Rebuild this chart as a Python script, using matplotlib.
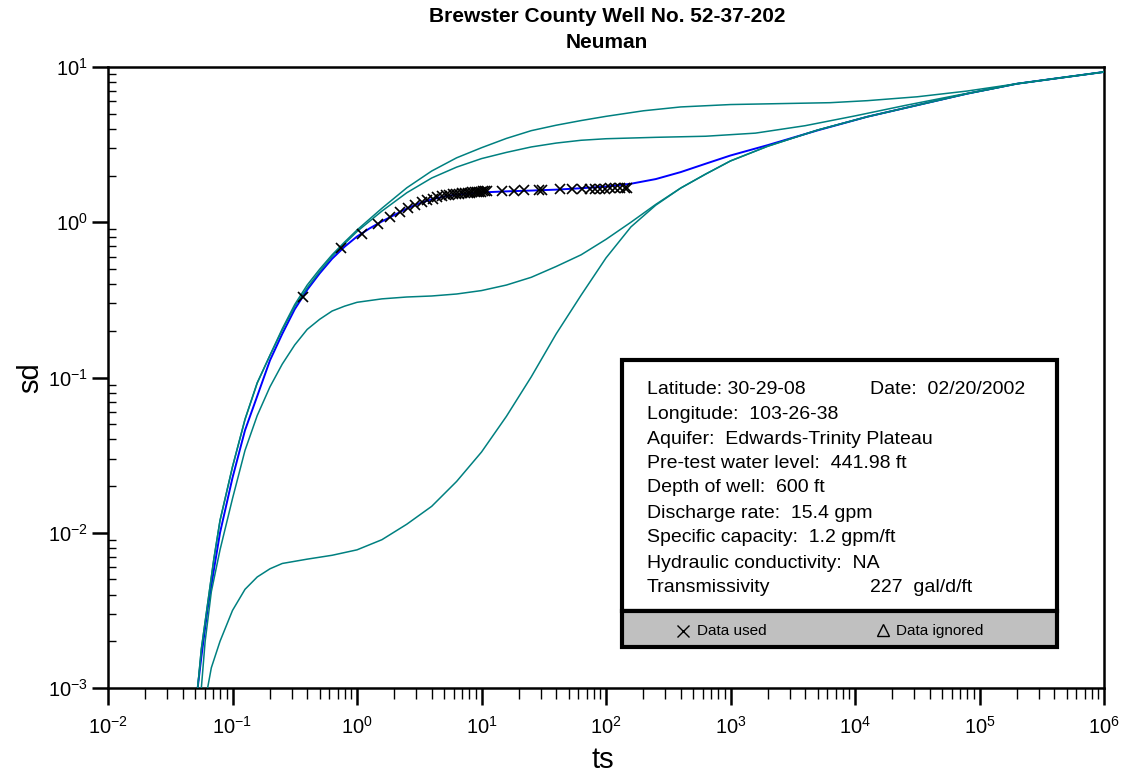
import numpy as np
import matplotlib
matplotlib.use("Agg")
import matplotlib.pyplot as plt
from matplotlib.ticker import LogLocator, FixedLocator, LogFormatterSciNotation
from matplotlib.patches import Rectangle
from matplotlib.lines import Line2D

plt.rcParams['font.family'] = ['Liberation Sans', 'DejaVu Sans']
plt.rcParams['mathtext.default'] = 'regular'

# --- Neuman type curves ---
t1_x = [0.0525, 0.0562, 0.0631, 0.0708, 0.0794, 0.1, 0.126, 0.158, 0.2, 0.251, 0.316, 0.398, 0.501,
        0.631, 0.794, 1, 1.585, 2.512, 3.981, 6.31, 10, 15.85, 25.1, 39.8, 63.1, 100, 200, 398, 1000,
        2512, 6310, 12590, 31620, 79430, 199500, 398100, 1e6]
t1_y = [0.001, 0.00178, 0.00347, 0.00676, 0.012, 0.0266, 0.0537, 0.0923, 0.139, 0.206, 0.295, 0.394,
        0.498, 0.617, 0.745, 0.891, 1.23, 1.667, 2.138, 2.60, 3.02, 3.467, 3.89, 4.217, 4.519, 4.81,
        5.224, 5.53, 5.73, 5.81, 5.89, 6.07, 6.43, 7.0, 7.8, 8.41, 9.29]

t2_x = [0.0525, 0.0562, 0.0631, 0.0708, 0.0794, 0.1, 0.126, 0.158, 0.2, 0.251, 0.316, 0.398, 0.501,
        0.631, 0.794, 1, 1.585, 2.512, 3.981, 6.31, 10, 15.85, 25.1, 39.8, 63.1, 100, 251, 631, 1585,
        3981, 10000, 25120, 63100, 125900, 199500, 398100, 1e6]
t2_y = [0.001, 0.00178, 0.00347, 0.00676, 0.012, 0.0266, 0.0537, 0.0923, 0.139, 0.202, 0.287, 0.378,
        0.482, 0.603, 0.726, 0.871, 1.18, 1.549, 1.928, 2.265, 2.57, 2.818, 3.055, 3.236, 3.373, 3.451,
        3.524, 3.581, 3.75, 4.188, 4.842, 5.649, 6.531, 7.228, 7.8, 8.41, 9.29]

t3_x = [0.0562, 0.0603, 0.0676, 0.0794, 0.1, 0.126, 0.158, 0.2, 0.251, 0.316, 0.398, 0.501, 0.631,
        0.794, 1, 1.585, 2.512, 3.981, 6.31, 10, 15.85, 25.1, 39.8, 63.1, 100, 158.5, 251, 398, 631,
        1000, 1995, 5012, 12590, 31620, 79430, 199500, 398100, 1e6]
t3_y = [0.001, 0.002, 0.00417, 0.00776, 0.0166, 0.0339, 0.0569, 0.0871, 0.122, 0.162, 0.204, 0.237,
        0.268, 0.288, 0.305, 0.321, 0.33, 0.335, 0.345, 0.363, 0.394, 0.442, 0.519, 0.617, 0.776, 1.0,
        1.303, 1.66, 2.042, 2.483, 3.09, 3.926, 4.786, 5.675, 6.73, 7.8, 8.41, 9.29]

t4_x = [0.0631, 0.0676, 0.0794, 0.1, 0.126, 0.158, 0.2, 0.251, 0.398, 0.631, 1, 1.585, 2.512, 3.981,
        6.31, 10, 15.85, 25.1, 39.8, 63.1, 100, 158.5, 251, 398, 631, 1000, 1995, 5012, 12590, 31620,
        79430, 199500, 398100, 1e6]
t4_y = [0.001, 0.00135, 0.002, 0.00316, 0.00432, 0.00519, 0.00586, 0.00634, 0.00676, 0.00716, 0.00776,
        0.00902, 0.01135, 0.0148, 0.0214, 0.0331, 0.0562, 0.101, 0.191, 0.339, 0.589, 0.933, 1.288,
        1.66, 2.042, 2.483, 3.09, 3.926, 4.786, 5.675, 6.73, 7.8, 8.41, 9.29]

# fitted curve (blue)
fit_x = [0.0525, 0.0562, 0.0631, 0.0708, 0.0794, 0.1, 0.126, 0.158, 0.2, 0.251, 0.316, 0.398, 0.501,
         0.631, 0.794, 1, 1.259, 1.585, 1.995, 2.512, 3.162, 3.981, 5.012, 6.31, 10, 15.85, 25.1, 39.8,
         63.1, 100, 158.5, 251, 398, 631, 1000, 1995, 5012, 12590, 31620, 79430, 199500, 398100, 1e6]
fit_y = [0.001, 0.00158, 0.00324, 0.00575, 0.01, 0.0226, 0.0457, 0.0759, 0.129, 0.191, 0.275, 0.367,
         0.468, 0.582, 0.695, 0.809, 0.912, 1.012, 1.114, 1.225, 1.324, 1.406, 1.466, 1.507, 1.556,
         1.581, 1.6, 1.622, 1.656, 1.698, 1.77, 1.897, 2.104, 2.382, 2.692, 3.14, 3.908, 4.786, 5.675,
         6.73, 7.8, 8.41, 9.29]

# observed data (used)
ts_obs = [0.37, 0.74, 1.10, 1.47, 1.84, 2.21, 2.58, 2.94, 3.31, 3.68, 4.05, 4.42, 4.78, 5.15, 5.52,
          5.89, 6.26, 6.62, 6.99, 7.36, 7.73, 8.10, 8.46, 8.83, 9.20, 9.57, 9.94, 10.3, 10.7, 11.0,
          14.7, 18.4, 22.1, 29.0, 30.5, 42.8, 53.3, 64.1, 74.3, 82.1, 89.0, 98.0, 108, 118, 129,
          142, 148]
sd_obs = [0.33, 0.68, 0.84, 0.98, 1.08, 1.16, 1.24, 1.30, 1.35, 1.39, 1.42, 1.45, 1.47, 1.49, 1.50,
          1.51, 1.52, 1.53, 1.54, 1.54, 1.55, 1.55, 1.56, 1.56, 1.57, 1.57, 1.57, 1.58, 1.58, 1.58,
          1.60, 1.60, 1.61, 1.62, 1.62, 1.63, 1.63, 1.63, 1.64, 1.64, 1.64, 1.64, 1.65, 1.65, 1.65,
          1.65, 1.65]

x_major = [1e-2, 1e-1, 1e0, 1e1, 1e2, 1e3, 1e4, 1e5, 1e6]
y_major = [1e-3, 1e-2, 1e-1, 1e0, 1e1]

info_left = ["Latitude: 30-29-08", "Longitude:  103-26-38", "Aquifer:  Edwards-Trinity Plateau",
             "Pre-test water level:  441.98 ft", "Depth of well:  600 ft", "Discharge rate:  15.4 gpm",
             "Specific capacity:  1.2 gpm/ft", "Hydraulic conductivity:  NA", "Transmissivity"]

teal = '#008080'

fig = plt.figure(figsize=(11.25, 7.78), dpi=100)
ax = fig.add_axes([108/1125, 1-688/778, 996/1125, 621/778])
ax.set_xscale('log')
ax.set_yscale('log')

ax.plot(fit_x, fit_y, color='#0000ff', lw=1.4, zorder=2)
for cx, cy in [(t1_x, t1_y), (t2_x, t2_y), (t3_x, t3_y), (t4_x, t4_y)]:
    ax.plot(cx, cy, color=teal, lw=1.1, zorder=3)
ax.plot(ts_obs, sd_obs, ls='none', marker='x', color='black', ms=7.5, mew=1.2, zorder=4)

ax.set_xlim(1e-2, 1e6)
ax.set_ylim(1e-3, 1e1)

ax.xaxis.set_major_locator(FixedLocator(x_major))
ax.yaxis.set_major_locator(FixedLocator(y_major))
ax.xaxis.set_major_formatter(LogFormatterSciNotation())
ax.yaxis.set_major_formatter(LogFormatterSciNotation())
ax.xaxis.set_minor_locator(LogLocator(base=10, subs=np.arange(2, 10), numticks=100))
ax.yaxis.set_minor_locator(LogLocator(base=10, subs=np.arange(2, 10), numticks=100))
ax.tick_params(axis='x', which='major', direction='out', length=12, width=1.8, labelsize=14.5, pad=8)
ax.tick_params(axis='x', which='minor', direction='out', length=8, width=1)
ax.tick_params(axis='y', which='major', direction='out', length=11.5, width=1.8, labelsize=14.5, pad=3)
ax.tick_params(axis='y', which='minor', direction='in', length=6, width=1)
for s in ax.spines.values():
    s.set_linewidth(1.8)

ax.set_xlabel('ts', fontsize=21, va='center')
ax.xaxis.set_label_coords(0.497, -0.116)
ax.set_ylabel('sd', fontsize=21, va='center')
ax.yaxis.set_label_coords(-0.078, 0.5)

fig.text(607/1125, 1-17/778, 'Brewster County Well No. 52-37-202', ha='center', va='center',
         fontsize=15, fontweight='bold')
fig.text(607/1125, 1-43/778, 'Neuman', ha='center', va='center', fontsize=15, fontweight='bold')

# info box
fig.add_artist(Rectangle((622/1125, 1-611/778), 435/1125, 251/778, transform=fig.transFigure,
                         facecolor='white', edgecolor='black', lw=3, zorder=5))
fig.add_artist(Rectangle((622/1125, 1-647/778), 435/1125, 36/778, transform=fig.transFigure,
                         facecolor='#c0c0c0', edgecolor='black', lw=3, zorder=5))
rows_y = [389, 414, 439, 464, 488, 513, 538, 563, 588]
for txt, yy in zip(info_left, rows_y):
    fig.text(647/1125, 1-yy/778, txt, ha='left', va='center', fontsize=14, zorder=6)
fig.text(870/1125, 1-389/778, 'Date:  02/20/2002', ha='left', va='center', fontsize=14, zorder=6)
fig.text(870/1125, 1-588/778, '227  gal/d/ft', ha='left', va='center', fontsize=14, zorder=6)

fig.add_artist(Line2D([683/1125], [1-631/778], marker='x', color='black', ms=9, mew=1,
                      transform=fig.transFigure, zorder=6))
fig.text(697/1125, 1-631/778, 'Data used', ha='left', va='center', fontsize=11, zorder=6)
fig.add_artist(Line2D([883/1125], [1-630/778], marker='^', color='black', mfc='none', ms=9, mew=1,
                      transform=fig.transFigure, zorder=6))
fig.text(896/1125, 1-631/778, 'Data ignored', ha='left', va='center', fontsize=11, zorder=6)

fig.savefig('out.png', dpi=100)
